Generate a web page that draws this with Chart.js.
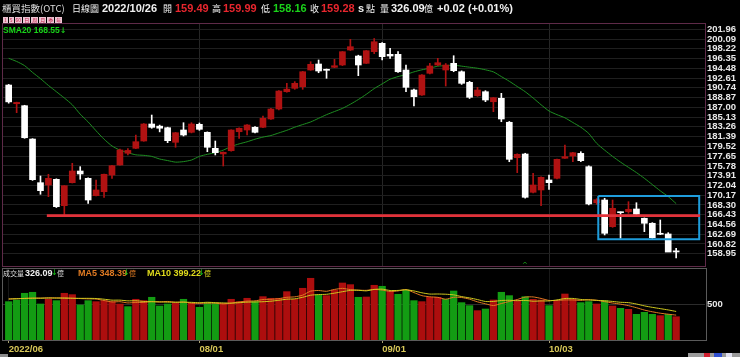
<!DOCTYPE html>
<html><head><meta charset="utf-8">
<script src="https://cdn.jsdelivr.net/npm/chart.js@4.4.0/dist/chart.umd.min.js"></script>
<style>
html,body{margin:0;padding:0;background:#000;width:740px;height:357px;overflow:hidden;position:relative;}
.a{position:absolute;white-space:nowrap;line-height:1;}
.cj{font-family:"Noto Sans CJK TC","Noto Sans CJK SC",sans-serif;font-size:9px;}
.n{font-family:"Liberation Sans",Arial,sans-serif;font-weight:bold;font-size:11px;}
.s{font-family:"Liberation Sans",Arial,sans-serif;font-weight:bold;font-size:8.5px;}
.ar{font-family:"DejaVu Sans",sans-serif;font-size:8px;color:#18c818;}
.row{font-size:0;line-height:0;}
.btn{display:inline-block;vertical-align:top;background:#ecc6d4;color:#c0204a;font-family:"Noto Sans CJK TC",sans-serif;font-size:5px;line-height:6px;height:6px;padding:0 1px;margin-right:1px;}
</style></head><body>
<canvas id="pc" width="740" height="268" style="position:absolute;left:0;top:0"></canvas>
<canvas id="vc" width="740" height="93" style="position:absolute;left:0;top:264px"></canvas>

<div class="a" style="left:2px;top:23px;width:704px;height:244px;border:1px solid #5e2a48;box-sizing:border-box;"></div>
<div class="a" style="left:2px;top:268px;width:705px;height:73px;border:1px solid #5a5a5a;box-sizing:border-box;"></div>

<div class="a cj" style="left:2px;top:4px;color:#dcdcdc;font-size:9.5px">櫃買指數(OTC)</div>
<div class="a cj" style="left:72px;top:4px;color:#f0f0f0">日線圖</div>
<div class="a n" style="left:102px;top:3px;color:#f0f0f0">2022/10/26</div>
<div class="a cj" style="left:163px;top:4px;color:#f0f0f0">開</div>
<div class="a n" style="left:175px;top:3px;color:#e8262e">159.49</div>
<div class="a cj" style="left:212px;top:4px;color:#f0f0f0">高</div>
<div class="a n" style="left:223px;top:3px;color:#e8262e">159.99</div>
<div class="a cj" style="left:261px;top:4px;color:#f0f0f0">低</div>
<div class="a n" style="left:273px;top:3px;color:#1ad21a">158.16</div>
<div class="a cj" style="left:310px;top:4px;color:#f0f0f0">收</div>
<div class="a n" style="left:321px;top:3px;color:#e8262e">159.28</div>
<div class="a n" style="left:358px;top:3px;color:#f0f0f0">s</div>
<div class="a cj" style="left:366px;top:4px;color:#f0f0f0">點</div>
<div class="a cj" style="left:380px;top:4px;color:#f0f0f0">量</div>
<div class="a n" style="left:391px;top:3px;color:#f0f0f0">326.09</div>
<div class="a cj" style="left:424px;top:4px;color:#f0f0f0">億</div>
<div class="a n" style="left:437px;top:3px;color:#f0f0f0">+0.02 (+0.01%)</div>

<div class="a row" style="left:3px;top:17px;"><span class="btn">1</span><span class="btn">5</span><span class="btn">60</span><span class="btn">日</span><span class="btn">周</span><span class="btn">月</span><span class="btn">季</span><span class="btn">年</span></div>

<div class="a s" style="left:3px;top:26px;color:#19d419">SMA20 168.55<span class="ar">↓</span></div>

<div class="a cj" style="left:3px;top:270px;color:#dcdcdc;font-size:7px">成交量</div>
<div class="a s" style="left:25px;top:269px;color:#f0f0f0;font-size:9px">326.09</div>
<div class="a ar" style="left:51px;top:269px">↓</div>
<div class="a cj" style="left:57px;top:270px;color:#dcdcdc;font-size:7px">億</div>
<div class="a s" style="left:78px;top:269px;color:#e07a22;font-size:9px">MA5 348.39</div>
<div class="a ar" style="left:123px;top:269px">↓</div>
<div class="a cj" style="left:129px;top:270px;color:#e07a22;font-size:7px">億</div>
<div class="a s" style="left:147px;top:269px;color:#e0dc1c;font-size:9px">MA10 399.22</div>
<div class="a ar" style="left:198px;top:269px">↓</div>
<div class="a cj" style="left:204px;top:270px;color:#e0dc1c;font-size:7px">億</div>

<div class="a" style="left:522px;top:262px;color:#1ab01a;font-family:'DejaVu Sans';font-size:7px">^</div>
<div class="a" style="left:0;top:354px;width:8px;height:3px;background:#8a8a8a"></div>
<div class="a" style="left:688px;top:353px;width:52px;height:4px;background:#9a9a9a"></div>
<div class="a" style="left:704px;top:353px;width:6px;height:4px;background:#d02030"></div>
<div class="a" style="left:714px;top:353px;width:8px;height:4px;background:#3050d0"></div>
<div class="a" style="left:726px;top:353px;width:6px;height:4px;background:#e0e0f0"></div>

<script>
// ---- data ----
const DATE_IDX = [0, 24, 47, 68];
const DATE_LABELS = ['2022/06', '08/01', '09/01', '10/03'];
const PRICE_TICKS = [158.95,160.82,162.69,164.56,166.43,168.30,170.17,172.04,173.91,175.78,177.65,179.52,
  181.39,183.26,185.13,187.00,188.87,190.74,192.61,194.48,196.35,198.22,200.09,201.96];
const VOL_TICKS = [500];

const OPEN = [191.28,187.70,187.32,180.93,172.56,172.12,173.21,168.15,172.56,174.80,
173.40,170.07,170.83,174.03,175.95,178.20,179.15,180.55,183.81,183.40,
183.10,180.30,182.66,182.22,183.75,182.22,179.15,178.07,178.69,182.33,
182.66,183.18,183.18,184.77,186.68,190.00,190.65,190.96,194.16,195.31,
194.30,194.68,195.12,197.99,196.84,195.44,197.67,199.28,197.17,197.17,
194.16,190.33,189.37,193.53,195.12,194.16,195.44,193.83,191.80,189.23,
190.00,188.08,188.74,184.14,177.35,178.06,170.72,171.16,173.08,173.40,
177.24,177.68,178.18,175.63,168.70,169.24,164.13,166.85,166.99,167.52,
165.74,164.78,162.70,162.73,159.49];
const HIGH = [191.40,188.00,187.40,181.00,173.84,174.17,173.30,172.00,176.28,175.63,
173.50,173.08,174.20,175.90,179.00,179.10,181.70,183.90,185.53,183.60,
183.20,182.20,184.06,184.06,184.00,182.30,180.55,178.45,182.70,183.10,
183.70,183.30,185.34,186.80,190.20,191.61,191.93,193.90,195.75,196.08,
194.35,196.21,197.70,200.04,197.00,197.90,200.20,199.40,198.32,197.67,
195.12,190.50,193.30,195.44,196.40,195.40,196.90,194.00,192.00,190.84,
190.20,188.90,189.69,184.30,178.10,178.20,174.36,173.70,174.04,177.10,
179.79,178.40,178.50,175.80,169.50,169.57,169.24,166.95,168.92,168.72,
165.80,164.90,165.41,162.98,159.99];
const LOW = [187.80,185.98,181.07,173.00,170.34,169.88,167.80,166.43,172.50,173.21,
168.61,170.00,169.76,173.40,175.90,177.90,179.10,180.50,182.99,182.30,
180.23,179.35,181.51,182.10,182.60,178.50,177.87,175.76,178.60,181.07,
181.70,182.10,183.10,184.70,186.50,189.90,190.46,190.46,194.10,193.64,
192.57,194.60,195.00,197.90,193.07,195.40,197.30,196.08,196.40,193.70,
190.00,187.26,189.30,193.40,195.00,191.09,193.83,191.40,188.70,189.10,
188.09,186.17,184.25,176.58,174.48,169.60,170.60,168.15,171.29,173.30,
177.20,176.58,176.60,168.30,168.40,162.54,164.00,161.90,166.69,166.40,
163.17,161.90,162.60,159.34,158.16];
const CLOSE = [188.05,187.95,181.18,173.14,171.03,173.40,167.96,171.98,174.80,174.23,
169.24,171.16,174.17,175.82,178.83,178.75,180.42,183.81,183.17,183.00,
180.61,182.14,181.70,183.81,182.79,179.35,178.31,178.39,182.66,182.99,
183.62,182.22,184.90,186.68,190.13,190.50,191.61,193.83,195.25,193.97,
194.10,194.98,197.67,198.63,195.12,197.86,199.58,196.71,196.84,193.83,
190.84,189.04,193.20,194.93,195.56,195.12,194.03,191.61,188.93,190.33,
188.41,188.85,184.77,177.04,178.00,169.76,172.12,173.59,172.56,177.04,
177.55,178.31,176.78,168.48,169.30,162.86,167.65,166.81,167.46,166.50,
164.78,162.02,162.67,159.26,159.28];
const SMA20 = [196.4,195.8,195.0,193.7,192.5,191.2,190.0,188.8,187.5,185.7,
184.2,182.5,180.9,179.6,178.8,178.3,177.9,177.8,177.6,177.1,
176.8,176.5,176.6,176.9,177.6,178.0,178.3,178.8,179.5,180.0,
180.4,180.9,181.3,181.6,182.1,182.6,183.2,183.7,184.2,184.9,
185.6,186.2,186.8,187.6,188.5,189.5,190.6,191.5,192.4,192.9,
193.3,193.8,194.2,194.5,194.9,195.0,195.1,194.9,194.7,194.5,
194.2,193.8,192.9,192.0,191.0,190.0,188.8,187.5,186.3,185.6,
185.0,184.1,183.2,182.0,180.1,178.8,177.6,176.5,175.5,174.5,
173.4,172.2,171.0,169.9,168.55];
const VOLUME = [537,560,654,668,504,570,551,654,635,490,
551,537,551,537,504,467,570,551,598,476,
504,514,570,514,458,523,514,514,570,537,
584,537,607,584,584,677,570,724,864,630,
621,700,798,775,598,602,766,752,677,640,
700,551,537,598,598,570,686,523,481,411,
434,560,668,621,551,607,570,560,481,551,
644,570,523,537,504,551,476,443,429,359,
387,359,341,359,326.09];
const VOL_MA5 = [574,578,582,586,585,591,589,589,583,580,
576,573,553,533,536,519,526,526,538,532,
540,529,532,516,512,516,516,505,516,532,
544,548,567,570,579,598,604,628,684,693,
682,708,723,705,698,695,708,699,679,687,
707,664,621,605,597,571,598,595,572,534,
507,482,511,539,567,601,603,582,554,554,
561,561,554,565,556,537,518,502,481,452,
419,395,375,361,348.39];
const VOL_MA10 = [574,578,582,585,586,587,587,586,585,583,
583,581,571,558,558,548,550,540,536,534,
530,528,529,527,522,528,523,519,516,522,
530,532,536,543,556,571,576,598,627,636,
640,656,676,695,696,688,708,712,693,694,
702,687,661,643,644,641,632,608,589,566,
539,540,553,556,551,554,543,547,547,561,
581,582,568,560,555,549,540,528,523,504,
478,457,439,421,399.22];
// annotations drawn on the reference: support level and highlight box
const SUPPORT_LEVEL = [166.25];
const SUPPORT_SPAN = [4.8, 87.0];
const BOX_X = [74.2, 86.9];
const BOX_Y = [161.7, 170.0];

// ---- layout constants ----
const X_MIN = -0.717, X_MAX = 87.63;
const RED = '#b01212', WHITE = '#ffffff', VRED = '#ad0e0e', VGREEN = '#139c13';
const TICK_FONT = {family: 'Liberation Sans', size: 9.5, weight: 'bold'};

const idx = CLOSE.map((_, i) => i);
const candleUp = idx.map(i => CLOSE[i] >= OPEN[i]);
const volUp = idx.map(i => i === 0 ? CLOSE[0] >= OPEN[0] : CLOSE[i] >= CLOSE[i - 1]);
const candleColor = idx.map(i => candleUp[i] ? RED : WHITE);

const nolegend = {legend: {display: false}, tooltip: {enabled: false}};
const noPad = s => { s.paddingTop = 0; s.paddingBottom = 0; s.paddingLeft = 0; s.paddingRight = 0; };

new Chart(document.getElementById('pc'), {
  type: 'bar',
  data: {
    datasets: [
      {type: 'line', order: 0,
       data: SUPPORT_SPAN.map(x => ({x, y: SUPPORT_LEVEL[0]})),
       borderColor: '#e2323a', borderWidth: 2.6, pointRadius: 0, fill: false},
      {type: 'line', order: 0,
       data: [{x: BOX_X[0], y: BOX_Y[1]}, {x: BOX_X[1], y: BOX_Y[1]}, {x: BOX_X[1], y: BOX_Y[0]},
              {x: BOX_X[0], y: BOX_Y[0]}, {x: BOX_X[0], y: BOX_Y[1]}],
       borderColor: '#1f9ddc', borderWidth: 2, pointRadius: 0, fill: false, tension: 0},
      {label: 'body', order: 1, grouped: false, barThickness: 6, minBarLength: 1,
       data: idx.map(i => ({x: i, y: [OPEN[i], CLOSE[i]]})),
       backgroundColor: candleColor, borderWidth: 0},
      {label: 'wick', order: 2, grouped: false, barThickness: 1,
       data: idx.map(i => ({x: i, y: [LOW[i], HIGH[i]]})),
       backgroundColor: candleColor, borderWidth: 0},
      {type: 'line', order: 3, data: idx.map(i => ({x: i, y: SMA20[i]})),
       borderColor: '#1e8e22', borderWidth: 1, pointRadius: 0, fill: false, tension: 0.2}
    ]
  },
  options: {
    responsive: false, animation: false, devicePixelRatio: 1,
    layout: {padding: {left: 3, top: 24, right: 0, bottom: 2}},
    plugins: nolegend,
    scales: {
      x: {type: 'linear', min: X_MIN, max: X_MAX, offset: false,
          grid: {color: '#262626', drawTicks: false, offset: false}, border: {display: false},
          ticks: {display: false},
          afterBuildTicks: s => { s.ticks = DATE_IDX.slice(1).map(v => ({value: v})); },
          afterFit: s => { s.height = 0; noPad(s); }},
      y: {position: 'right', min: 156.59, max: 202.98,
          grid: {color: '#1f1f1f', drawTicks: false}, border: {display: false},
          ticks: {color: '#e8e8e8', font: TICK_FONT, padding: 2, autoSkip: false,
                  callback: v => Number(v).toFixed(2)},
          afterBuildTicks: s => { s.ticks = PRICE_TICKS.map(v => ({value: v})); },
          afterFit: s => { s.width = 35; noPad(s); }}
    }
  }
});

new Chart(document.getElementById('vc'), {
  type: 'bar',
  data: {
    datasets: [
      {type: 'line', order: 0, data: idx.map(i => ({x: i, y: VOL_MA10[i]})),
       borderColor: '#cfc81e', borderWidth: 1, pointRadius: 0, fill: false, tension: 0.2},
      {type: 'line', order: 0, data: idx.map(i => ({x: i, y: VOL_MA5[i]})),
       borderColor: '#e07a22', borderWidth: 1, pointRadius: 0, fill: false, tension: 0.2},
      {order: 1, grouped: false, barThickness: 6.6,
       data: idx.map(i => ({x: i, y: VOLUME[i]})),
       backgroundColor: idx.map(i => volUp[i] ? VRED : VGREEN), borderWidth: 0}
    ]
  },
  options: {
    responsive: false, animation: false, devicePixelRatio: 1,
    layout: {padding: {left: 3, top: 4, right: 0, bottom: 0}},
    plugins: nolegend,
    scales: {
      x: {type: 'linear', min: X_MIN, max: X_MAX, offset: false,
          grid: {color: '#181818', tickColor: '#a8a070', tickLength: 3, offset: false},
          border: {display: false},
          ticks: {color: '#d8c858', font: TICK_FONT, padding: 1, align: 'start', autoSkip: false,
                  maxRotation: 0, minRotation: 0,
                  callback: v => { const k = DATE_IDX.indexOf(v); return k >= 0 ? DATE_LABELS[k] : ''; }},
          afterBuildTicks: s => { s.ticks = DATE_IDX.map(v => ({value: v})); },
          afterFit: s => { s.height = 17; noPad(s); }},
      y: {position: 'right', min: 0, max: 1008,
          grid: {color: '#2c2c2c', drawTicks: false}, border: {display: false},
          ticks: {color: '#e8e8e8', font: TICK_FONT, padding: 2, autoSkip: false},
          afterBuildTicks: s => { s.ticks = VOL_TICKS.map(v => ({value: v})); },
          afterFit: s => { s.width = 35; noPad(s); }}
    }
  }
});
</script>
</body></html>
